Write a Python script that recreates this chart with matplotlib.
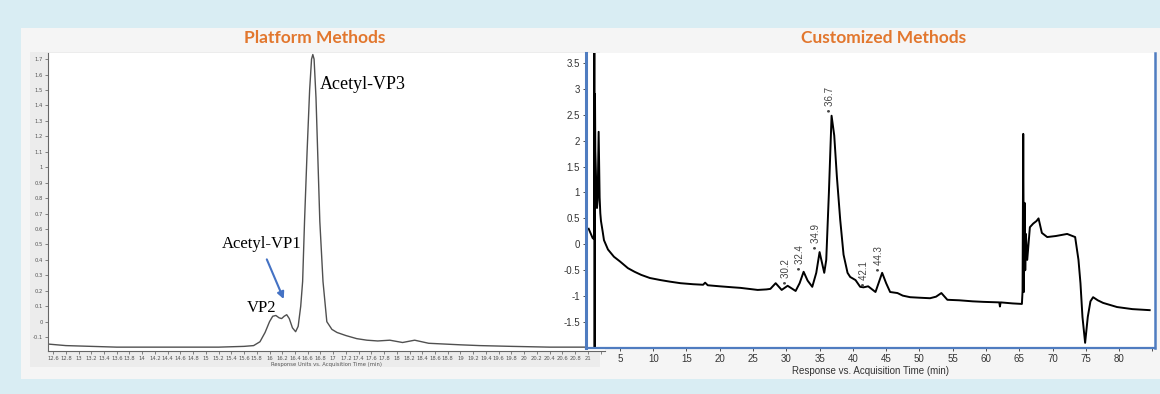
import numpy as np
import matplotlib.pyplot as plt
from matplotlib.patches import Rectangle

# left chromatogram (platform method)
platform_time = [12.52, 12.8, 13.2, 13.6, 14.0, 14.4, 14.8, 15.2, 15.6, 15.75, 15.85, 15.93,
                 16.0, 16.05, 16.10, 16.15, 16.19, 16.23, 16.27, 16.31, 16.36, 16.41, 16.45,
                 16.49, 16.52, 16.55, 16.59, 16.63, 16.66, 16.68, 16.70, 16.73, 16.76, 16.79,
                 16.84, 16.9, 16.98, 17.06, 17.2, 17.37, 17.53, 17.7, 17.89, 18.09, 18.28,
                 18.5, 19.0, 19.3, 19.8, 20.4, 20.87, 21.27]
platform_resp = [-0.145, -0.155, -0.16, -0.165, -0.165, -0.165, -0.165, -0.165, -0.16, -0.155,
                 -0.13, -0.07, 0.0, 0.035, 0.04, 0.025, 0.02, 0.035, 0.045, 0.02, -0.04, -0.065,
                 -0.03, 0.1, 0.26, 0.65, 1.1, 1.5, 1.7, 1.73, 1.7, 1.45, 1.05, 0.65, 0.26, 0.0,
                 -0.05, -0.07, -0.09, -0.11, -0.12, -0.125, -0.12, -0.135, -0.12, -0.14, -0.15,
                 -0.155, -0.16, -0.165, -0.165, -0.165]
platform_xticks = np.round(np.arange(12.6, 21.21, 0.2), 1)
platform_xlabels = ['%g' % t for t in platform_xticks[:-1]] + ['']
platform_yticks = np.round(np.arange(-0.1, 1.71, 0.1), 1)
platform_ylabels = ['%g' % t for t in platform_yticks]

# right chromatogram (customized method)
custom_time = [0.3, 0.9, 1.1, 1.15, 1.2, 1.25, 1.3, 1.45, 1.55, 1.65, 1.8, 1.95, 2.05, 2.15,
               2.4, 2.6, 3.2, 4.1, 5.0, 6.2, 7.2, 8.2, 9.5, 11.1, 12.5, 14.1, 16.0, 17.5, 17.8,
               18.2, 20.0, 22.0, 23.1, 25.7, 27.0, 27.6, 28.4, 29.3, 30.2, 31.4, 32.0, 32.6,
               33.2, 33.9, 34.5, 35.0, 35.7, 36.0, 36.4, 36.8, 37.2, 37.6, 38.1, 38.6, 39.2,
               39.6, 40.4, 41.1, 41.6, 42.3, 42.8, 43.4, 44.4, 45.0, 45.6, 46.7, 47.5, 48.6,
               50.0, 51.6, 52.5, 53.3, 54.2, 56.0, 58.0, 59.6, 62.0, 62.1, 62.2, 64.0, 65.4,
               65.5, 65.6, 65.7, 65.8, 65.9, 66.0, 66.2, 66.6, 67.1, 67.6, 67.9, 68.4, 69.2,
               70.5, 72.2, 73.4, 73.9, 74.2, 74.5, 74.9, 75.3, 75.7, 76.1, 76.8, 77.6, 79.7,
               82.0, 84.6]
custom_resp = [0.3, 0.12, 0.1, 3.8, -2.1, 2.9, 1.8, 1.1, 0.7, 0.85, 2.17, 0.9, 0.6, 0.45,
               0.25, 0.08, -0.1, -0.24, -0.33, -0.46, -0.53, -0.59, -0.65, -0.69, -0.72, -0.75,
               -0.77, -0.78, -0.74, -0.79, -0.81, -0.83, -0.84, -0.88, -0.87, -0.86, -0.75,
               -0.88, -0.80, -0.90, -0.75, -0.53, -0.70, -0.82, -0.55, -0.15, -0.55, -0.3, 1.0,
               2.48, 2.1, 1.3, 0.47, -0.2, -0.55, -0.63, -0.69, -0.82, -0.83, -0.81, -0.86,
               -0.92, -0.55, -0.75, -0.92, -0.94, -0.99, -1.02, -1.03, -1.04, -1.01, -0.94,
               -1.07, -1.08, -1.10, -1.11, -1.12, -1.2, -1.12, -1.14, -1.15, -0.9, 2.13, -0.92,
               0.8, -0.5, 0.2, -0.3, 0.33, 0.40, 0.45, 0.5, 0.22, 0.14, 0.16, 0.2, 0.14, -0.3,
               -0.75, -1.4, -1.9, -1.4, -1.1, -1.02, -1.08, -1.13, -1.21, -1.25, -1.27]
custom_xticks = [5, 10, 15, 20, 25, 30, 35, 40, 45, 50, 55, 60, 65, 70, 75, 80, 85]
custom_xlabels = ['5', '10', '15', '20', '25', '30', '35', '40', '45', '50', '55', '60',
                  '65', '70', '75', '80', '']
custom_yticks = [-1.5, -1, -0.5, 0, 0.5, 1, 1.5, 2, 2.5, 3, 3.5]
custom_ylabels = ['-1.5', '-1', '-0.5', '0', '0.5', '1', '1.5', '2', '2.5', '3', '3.5']

peak_names = ['30.2', '32.4', '34.9', '36.7', '42.1', '44.3']
peak_x = [29.9, 32.0, 34.4, 36.5, 41.7, 44.0]
peak_y = [-0.76, -0.49, -0.10, 2.56, -0.80, -0.51]

W, H = 1160, 394
fig = plt.figure(figsize=(11.6, 3.94), dpi=100, facecolor='#d9edf3')


def box(x0, y0, x1, y1):
    # pixel box (top-left origin) -> figure fraction
    return [x0 / W, 1 - y1 / H, (x1 - x0) / W, (y1 - y0) / H]


b = box(21, 28, 1160, 379)
fig.patches.append(Rectangle((b[0], b[1]), b[2], b[3], transform=fig.transFigure,
                             facecolor='#f5f5f5', edgecolor='none', zorder=-2))
b = box(30, 52, 600, 367)
fig.patches.append(Rectangle((b[0], b[1]), b[2], b[3], transform=fig.transFigure,
                             facecolor='#ececec', edgecolor='none', zorder=-1))

orange = '#e2772e'
fig.text(315 / W, 1 - 38 / H, 'Platform Methods', color=orange, fontsize=12.5,
         fontweight='bold', family='Lato', ha='center', va='center')
fig.text(884 / W, 1 - 38 / H, 'Customized Methods', color=orange, fontsize=12.5,
         fontweight='bold', family='Lato', ha='center', va='center')

# ---- left panel
ax1 = fig.add_axes(box(48, 53, 605, 351))
ax1.set_zorder(1)
ax1.set_facecolor('white')
ax1.plot(platform_time, platform_resp, color='#505050', lw=1.0)
ax1.set_xlim(12.52, 21.27)
ax1.set_ylim(-0.19, 1.74)
ax1.set_xticks(platform_xticks)
ax1.set_xticklabels(platform_xlabels)
ax1.set_yticks(platform_yticks)
ax1.set_yticklabels(platform_ylabels)
ax1.tick_params(labelsize=3.8, colors='#555555', length=2, width=0.5, pad=1.5)
for s in ['top', 'right']:
    ax1.spines[s].set_visible(False)
for s in ['left', 'bottom']:
    ax1.spines[s].set_color('#666666')
    ax1.spines[s].set_linewidth(0.8)
ax1.set_xlabel('Response Units vs. Acquisition Time (min)', fontsize=3.8,
               color='#555555', labelpad=1)

serif = 'Liberation Serif'
ax1.text(16.79, 1.536, 'Acetyl-VP3', family=serif, fontsize=13, ha='left', va='center')
ax1.text(15.88, 0.50, 'Acetyl-VP1', family=serif, fontsize=12, ha='center', va='center')
ax1.text(15.88, 0.09, 'VP2', family=serif, fontsize=12, ha='center', va='center')
ax1.annotate('', xy=(16.24, 0.13), xytext=(15.94, 0.42),
             arrowprops=dict(arrowstyle='-|>', color='#4472c4', lw=1.5, mutation_scale=10))

# ---- right panel
ax2 = fig.add_axes(box(586, 53, 1155, 348))
ax2.set_zorder(2)
ax2.set_facecolor('white')
ax2.plot(custom_time, custom_resp, color='black', lw=1.4)
ax2.set_xlim(-0.1, 85.4)
ax2.set_ylim(-2.0, 3.69)
ax2.set_xticks(custom_xticks)
ax2.set_xticklabels(custom_xlabels)
ax2.set_yticks(custom_yticks)
ax2.set_yticklabels(custom_ylabels)
ax2.tick_params(labelsize=7, colors='#333333', length=2.5, width=0.6, pad=2,
                labelfontfamily='Liberation Sans')
ax2.spines['top'].set_visible(False)
blue = '#4f7cc0'
ax2.spines['left'].set_color(blue)
ax2.spines['left'].set_linewidth(2.2)
ax2.spines['right'].set_color(blue)
ax2.spines['right'].set_linewidth(1.8)
ax2.spines['bottom'].set_color(blue)
ax2.spines['bottom'].set_linewidth(1.6)
ax2.set_xlabel('Response vs. Acquisition Time (min)', fontsize=7, color='#333333',
               family='Liberation Sans', labelpad=1)

for name, px, py in zip(peak_names, peak_x, peak_y):
    ax2.text(px, py, '\u2022 ' + name, rotation=90, ha='center', va='bottom',
             fontsize=7, color='#444444', family='Liberation Sans')

fig.savefig('out.png', dpi=100, facecolor=fig.get_facecolor())
